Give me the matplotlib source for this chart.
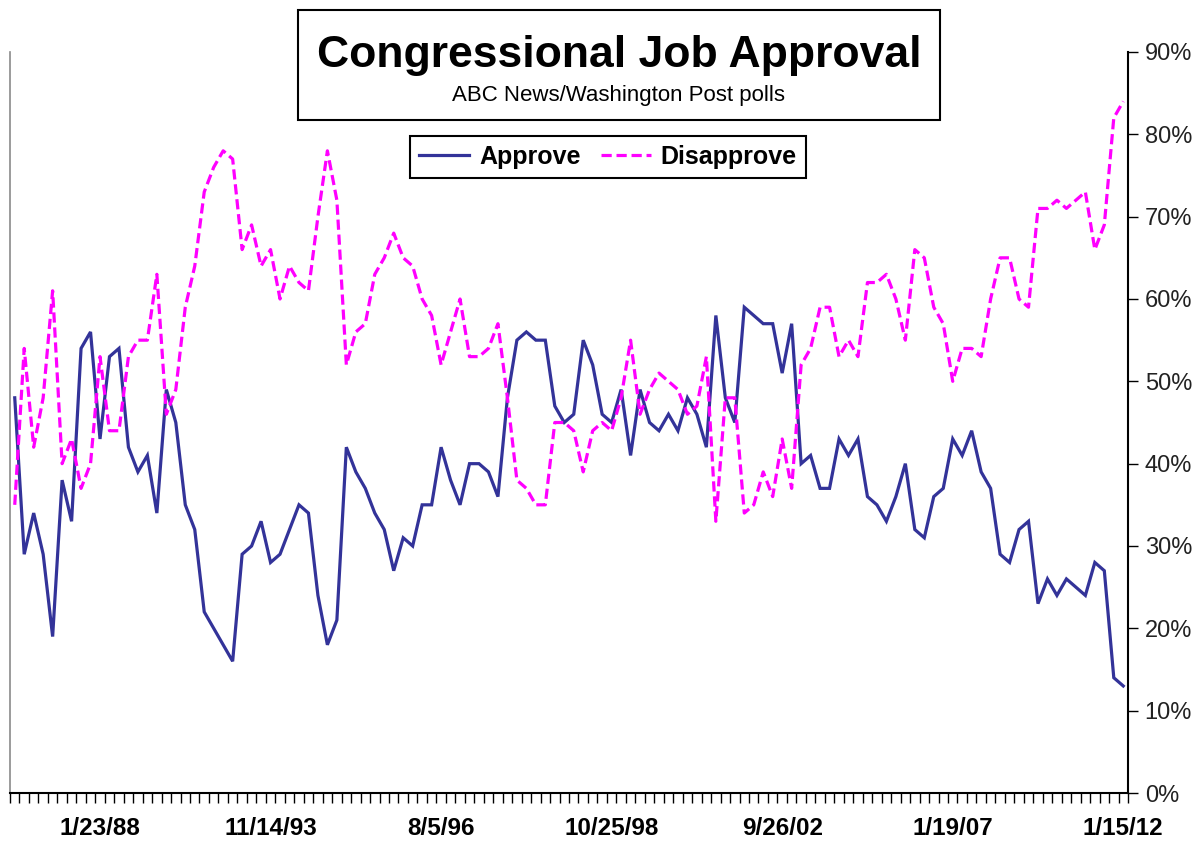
import numpy as np
import matplotlib
matplotlib.use("Agg")
import matplotlib.pyplot as plt
from matplotlib.patches import Rectangle
from matplotlib.lines import Line2D

plt.rcParams['font.family'] = ['Liberation Sans', 'DejaVu Sans']

# ABC News/Washington Post polls, one value per poll (percent)
approve = [48, 29, 34, 29, 19, 38, 33, 54, 56, 43, 53, 54, 42, 39, 41, 34, 49, 45, 35, 32,
           22, 20, 18, 16, 29, 30, 33, 28, 29, 32, 35, 34, 24, 18, 21, 42, 39, 37, 34, 32,
           27, 31, 30, 35, 35, 42, 38, 35, 40, 40, 39, 36, 48, 55, 56, 55, 55, 47, 45, 46,
           55, 52, 46, 45, 49, 41, 49, 45, 44, 46, 44, 48, 46, 42, 58, 48, 45, 59, 58, 57,
           57, 51, 57, 40, 41, 37, 37, 43, 41, 43, 36, 35, 33, 36, 40, 32, 31, 36, 37, 43,
           41, 44, 39, 37, 29, 28, 32, 33, 23, 26, 24, 26, 25, 24, 28, 27, 14, 13]
disapprove = [35, 54, 42, 48, 61, 40, 43, 37, 40, 53, 44, 44, 53, 55, 55, 63, 46, 49, 59, 64,
              73, 76, 78, 77, 66, 69, 64, 66, 60, 64, 62, 61, 70, 78, 72, 52, 56, 57, 63, 65,
              68, 65, 64, 60, 58, 52, 56, 60, 53, 53, 54, 57, 48, 38, 37, 35, 35, 45, 45, 44,
              39, 44, 45, 44, 48, 55, 46, 49, 51, 50, 49, 46, 47, 53, 33, 48, 48, 34, 35, 39,
              36, 43, 37, 52, 54, 59, 59, 53, 55, 53, 62, 62, 63, 60, 55, 66, 65, 59, 57, 50,
              54, 54, 53, 60, 65, 65, 60, 59, 71, 71, 72, 71, 72, 73, 66, 69, 82, 84]
date_labels = ['1/23/88', '11/14/93', '8/5/96', '10/25/98', '9/26/02', '1/19/07', '1/15/12']

n = len(approve)
x = np.arange(n)
label_idx = list(range(9, n, 18))

W, H = 1201, 844
fig = plt.figure(figsize=(W / 100, H / 100), dpi=100)
ax = fig.add_axes([10 / W, 1 - 793 / H, 1118 / W, 741 / H])

blue = '#333399'
magenta = '#FF00FF'
ax.plot(x, approve, color=blue, lw=2.3, solid_joinstyle='miter')
ln, = ax.plot(x, disapprove, color=magenta, lw=2.3, linestyle='--')
ln.set_dashes((3.2, 1.5))

ax.set_xlim(-0.5, n - 0.5)
ax.set_ylim(0, 90)

# y axis on the right
ax.yaxis.tick_right()
ax.set_yticks(np.arange(0, 91, 10))
ax.set_yticklabels([f'{v}%' for v in range(0, 91, 10)], fontsize=17, color='#222222')
ax.tick_params(axis='y', direction='out', length=7, width=1, pad=5)

# category ticks between points, labels at selected polls
ax.set_xticks(np.arange(-0.5, n, 1.0), minor=True)
ax.set_xticks(label_idx)
ax.set_xticklabels(date_labels, fontsize=17.5, fontweight='bold')
ax.tick_params(axis='x', which='major', length=0, pad=17)
ax.tick_params(axis='x', which='minor', direction='out', length=7, width=1)

ax.spines['top'].set_visible(False)
ax.spines['left'].set_color('#8a8a8a')
ax.spines['left'].set_linewidth(1.2)
ax.spines['right'].set_linewidth(1.5)
ax.spines['bottom'].set_linewidth(1.5)

# title box
fig.patches.append(Rectangle((298 / W, 1 - 120 / H), 642 / W, 110 / H,
                             transform=fig.transFigure, facecolor='white',
                             edgecolor='black', linewidth=1.5, zorder=5))
fig.text(619 / W, 1 - 56 / H, 'Congressional Job Approval', ha='center', va='center',
         fontsize=32, fontweight='bold', zorder=6)
fig.text(619 / W, 1 - 95 / H, 'ABC News/Washington Post polls', ha='center', va='center',
         fontsize=16, zorder=6)

handles = [Line2D([], [], color=blue, lw=2.3),
           Line2D([], [], color=magenta, lw=2.3, linestyle=(0, (3.2, 1.5)))]
leg = fig.legend(handles, ['Approve', 'Disapprove'], ncol=2, loc='center',
                 bbox_to_anchor=(608 / W, 1 - 157 / H), frameon=True, fancybox=False,
                 edgecolor='black', framealpha=1, handlelength=2.0, columnspacing=0.8,
                 handletextpad=0.4, borderpad=0.35,
                 prop={'weight': 'bold', 'size': 18})
leg.get_frame().set_linewidth(1.5)

fig.savefig('out.png', dpi=100)
